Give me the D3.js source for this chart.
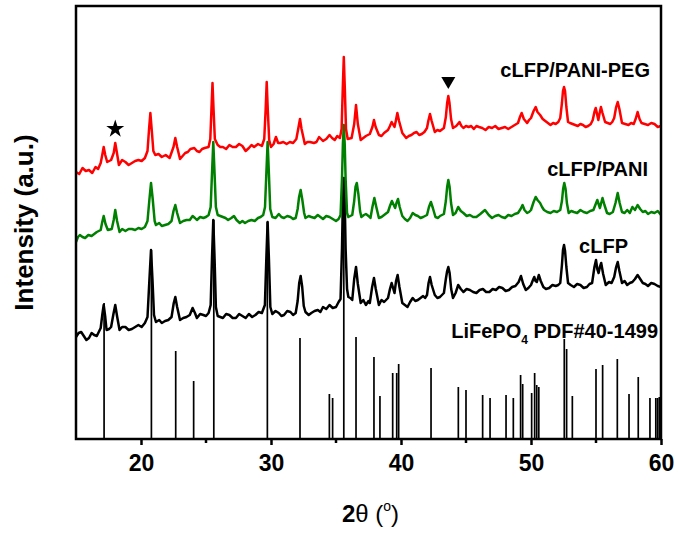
<!DOCTYPE html>
<html>
<head>
<meta charset="utf-8">
<script src="https://cdn.jsdelivr.net/npm/d3@7"></script>
<style>
  body { margin: 0; background: #fff; }
  svg text { font-family: "Liberation Sans", Arial, sans-serif; }
</style>
</head>
<body>
<div id="chart"></div>
<script>
// 2theta ticks
var xTicks = [20, 30, 40, 50, 60];
var xMinor = [25, 35, 45, 55];

// cLFP/PANI-PEG pattern (stacked, a.u.)
var pegData = [
  [15.0,267],[15.25,265],[15.5,271],[15.75,268],[16.0,269],[16.25,266],[16.5,272],[16.7,270],[16.9,276],
  [17.02,284],[17.13,292],[17.25,284],[17.4,277],[17.7,279],[17.9,286],[18.02,296],[18.15,286],[18.3,274],
  [18.55,279],[18.8,277],[19.05,274],[19.3,276],[19.55,278],[19.8,279],[20.05,278],[20.3,281],[20.5,288],
  [20.62,310],[20.72,326],[20.82,310],[20.95,288],[21.1,284],[21.35,285],[21.6,282],[21.9,284],[22.2,281],
  [22.5,292],[22.64,301],[22.78,292],[23.0,280],[23.2,283],[23.4,286],[23.6,287],[23.8,290],[24.1,291],
  [24.3,288],[24.5,287],[24.7,290],[24.9,291],[25.2,292],[25.33,300],[25.42,330],[25.5,356],[25.58,330],
  [25.68,300],[25.9,294],[26.1,292],[26.3,292],[26.55,290],[26.8,294],[27.05,292],[27.3,292],[27.55,295],
  [27.8,293],[28.05,288],[28.3,291],[28.5,294],[28.7,292],[29.0,295],[29.3,293],[29.48,300],[29.59,330],
  [29.67,357],[29.75,330],[29.86,299],[30.0,292],[30.2,295],[30.38,302],[30.55,296],[30.7,296],[30.95,297],
  [31.2,295],[31.45,297],[31.7,296],[31.95,300],[32.12,312],[32.23,320],[32.35,310],[32.6,295],[32.8,297],
  [33.0,297],[33.3,296],[33.5,297],[33.7,302],[34.0,298],[34.25,300],[34.5,304],[34.7,301],[34.9,299],
  [35.1,303],[35.3,301],[35.43,310],[35.52,350],[35.6,382],[35.68,350],[35.77,310],[35.9,300],[36.2,301],
  [36.4,315],[36.54,334],[36.68,315],[36.9,299],[37.1,301],[37.3,303],[37.6,305],[37.8,312],[37.92,319],
  [38.05,312],[38.3,304],[38.5,303],[38.7,306],[39.0,309],[39.15,313],[39.28,317],[39.5,312],[39.6,318],
  [39.72,326],[39.85,318],[40.1,306],[40.4,301],[40.6,303],[40.8,304],[41.0,306],[41.2,307],[41.4,304],
  [41.6,305],[41.8,307],[42.0,311],[42.1,318],[42.23,325],[42.36,318],[42.6,307],[42.8,309],[43.0,308],
  [43.3,311],[43.45,322],[43.55,336],[43.64,343],[43.73,336],[43.85,320],[44.0,311],[44.25,313],[44.5,317],
  [44.65,313],[44.8,311],[45.0,313],[45.2,312],[45.4,313],[45.6,310],[45.8,313],[46.0,312],[46.25,311],
  [46.5,309],[46.75,312],[47.0,311],[47.25,313],[47.5,310],[47.75,311],[48.0,312],[48.25,310],[48.5,312],
  [48.75,314],[49.0,316],[49.15,322],[49.28,326],[49.45,320],[49.7,316],[49.85,319],[50.0,321],[50.2,328],
  [50.36,332],[50.5,327],[50.7,324],[50.9,320],[51.1,318],[51.3,316],[51.5,314],[51.7,316],[51.9,315],
  [52.1,317],[52.25,321],[52.38,336],[52.46,348],[52.54,352],[52.62,348],[52.72,332],[52.85,317],[53.0,316],
  [53.2,315],[53.4,314],[53.6,313],[53.8,315],[54.0,314],[54.2,312],[54.4,313],[54.6,315],[54.75,319],
  [54.88,327],[54.98,331],[55.08,325],[55.18,319],[55.28,326],[55.38,332],[55.5,326],[55.7,317],[55.9,316],
  [56.1,315],[56.25,317],[56.4,321],[56.55,332],[56.67,337],[56.8,330],[57.0,316],[57.25,315],[57.5,314],
  [57.7,316],[57.9,315],[58.05,320],[58.2,327],[58.35,320],[58.5,316],[58.75,315],[59.0,314],[59.25,316],
  [59.5,315],[59.75,312],[60.0,313]
];

// cLFP/PANI pattern
var paniData = [
  [15.0,197],[15.15,202],[15.3,204],[15.5,202],[15.7,201],[15.95,204],[16.2,203],[16.4,205],[16.6,207],
  [16.9,209],[17.02,217],[17.13,223],[17.27,215],[17.45,209],[17.75,210],[17.9,219],[18.02,229],[18.16,218],
  [18.35,207],[18.55,210],[18.8,208],[19.05,210],[19.3,210],[19.55,209],[19.8,211],[20.05,210],[20.3,212],
  [20.5,218],[20.65,240],[20.77,256],[20.9,240],[21.05,218],[21.15,214],[21.4,216],[21.6,213],[21.85,214],
  [22.1,215],[22.35,218],[22.5,228],[22.64,234],[22.78,226],[23.0,216],[23.25,218],[23.5,219],[23.75,219],
  [23.97,223],[24.15,221],[24.3,219],[24.55,222],[24.8,221],[25.0,222],[25.2,224],[25.36,232],[25.46,265],
  [25.56,297],[25.66,265],[25.76,232],[25.9,224],[26.1,223],[26.3,222],[26.5,221],[26.7,219],[26.95,221],
  [27.15,223],[27.35,219],[27.6,216],[27.8,218],[28.0,216],[28.25,218],[28.5,219],[28.75,218],[29.0,221],
  [29.2,222],[29.4,224],[29.54,232],[29.64,265],[29.74,297],[29.84,265],[29.94,230],[30.1,222],[30.35,221],
  [30.6,225],[30.8,222],[31.0,221],[31.25,223],[31.5,222],[31.7,220],[31.9,221],[32.05,230],[32.16,242],
  [32.28,249],[32.4,240],[32.55,226],[32.65,221],[32.9,223],[33.1,222],[33.35,221],[33.6,224],[33.8,222],
  [34.0,220],[34.25,223],[34.5,222],[34.75,220],[35.0,218],[35.2,220],[35.35,224],[35.46,260],[35.53,295],
  [35.6,314],[35.67,295],[35.74,260],[35.85,226],[35.95,222],[36.25,224],[36.4,238],[36.5,252],[36.6,256],
  [36.72,245],[36.85,228],[36.95,222],[37.15,224],[37.3,225],[37.5,223],[37.65,221],[37.8,232],[37.95,241],
  [38.1,232],[38.3,221],[38.5,222],[38.7,224],[39.0,227],[39.15,233],[39.3,238],[39.55,231],[39.65,236],
  [39.77,240],[39.9,232],[40.1,223],[40.3,220],[40.5,218],[40.7,221],[40.9,226],[41.1,224],[41.3,223],
  [41.5,221],[41.7,222],[42.0,224],[42.15,232],[42.3,237],[42.45,231],[42.65,222],[42.85,221],[43.0,223],
  [43.3,225],[43.45,238],[43.55,252],[43.64,259],[43.74,252],[43.85,236],[44.0,224],[44.2,226],[44.4,232],
  [44.6,228],[44.8,226],[45.05,223],[45.3,224],[45.55,222],[45.8,222],[46.1,225],[46.46,229],[46.75,224],
  [47.0,221],[47.25,223],[47.5,224],[47.75,222],[48.0,221],[48.25,224],[48.5,223],[48.75,225],[49.0,226],
  [49.2,230],[49.35,234],[49.5,229],[49.7,226],[49.85,227],[50.0,229],[50.2,237],[50.36,242],[50.5,239],
  [50.7,236],[50.85,232],[51.0,229],[51.25,227],[51.5,226],[51.75,228],[52.0,227],[52.25,229],[52.38,238],
  [52.47,250],[52.56,256],[52.66,250],[52.76,236],[52.9,226],[53.1,228],[53.3,227],[53.55,226],[53.8,229],
  [54.05,227],[54.3,226],[54.55,228],[54.8,229],[54.95,234],[55.1,239],[55.3,231],[55.4,236],[55.5,241],
  [55.65,234],[55.85,226],[56.05,225],[56.3,227],[56.5,236],[56.67,246],[56.82,236],[57.0,227],[57.2,226],
  [57.4,229],[57.6,226],[57.8,232],[58.0,229],[58.2,234],[58.4,230],[58.6,227],[58.8,228],[59.0,225],
  [59.25,227],[59.5,226],[59.75,228],[60.0,224]
];

// cLFP pattern
var clfpData = [
  [15.0,102],[15.2,106],[15.4,107],[15.6,103],[15.8,99],[16.0,101],[16.2,106],[16.4,104],[16.6,103],
  [16.75,107],[16.9,111],[17.03,125],[17.13,134],[17.25,122],[17.35,109],[17.55,110],[17.7,112],[17.88,125],
  [18.02,134],[18.17,122],[18.35,109],[18.55,112],[18.8,112],[19.05,109],[19.3,110],[19.55,112],[19.8,114],
  [20.05,112],[20.3,116],[20.5,122],[20.65,160],[20.77,189],[20.88,160],[21.0,124],[21.15,117],[21.4,119],
  [21.6,116],[21.85,118],[22.1,119],[22.35,122],[22.52,136],[22.64,142],[22.78,132],[23.0,119],[23.25,121],
  [23.5,122],[23.75,124],[23.97,131],[24.15,126],[24.3,121],[24.55,125],[24.8,124],[25.0,123],[25.2,126],
  [25.36,134],[25.46,180],[25.56,219],[25.66,180],[25.76,132],[25.9,123],[26.1,122],[26.3,121],[26.55,125],
  [26.8,124],[27.05,121],[27.3,121],[27.55,125],[27.8,123],[28.05,121],[28.3,125],[28.55,122],[28.8,124],
  [29.05,127],[29.3,126],[29.53,134],[29.64,180],[29.74,217],[29.84,180],[29.95,132],[30.1,125],[30.35,128],
  [30.6,126],[30.8,123],[31.0,124],[31.25,128],[31.5,127],[31.7,124],[31.9,126],[32.05,138],[32.17,156],
  [32.28,163],[32.4,152],[32.52,133],[32.65,127],[32.9,124],[33.1,126],[33.35,128],[33.6,129],[33.8,127],
  [34.0,132],[34.25,130],[34.5,134],[34.75,131],[35.0,132],[35.2,137],[35.35,140],[35.46,190],[35.53,240],
  [35.6,261],[35.67,240],[35.74,190],[35.85,150],[35.95,142],[36.1,141],[36.25,139],[36.4,160],[36.54,172],
  [36.68,155],[36.9,136],[37.1,139],[37.3,134],[37.5,138],[37.6,136],[37.78,152],[37.92,161],[38.06,150],
  [38.3,134],[38.5,139],[38.7,137],[38.85,139],[39.0,141],[39.15,150],[39.28,156],[39.5,146],[39.62,158],
  [39.74,164],[39.88,152],[40.1,136],[40.3,134],[40.5,132],[40.7,137],[40.9,141],[41.1,138],[41.3,139],
  [41.5,141],[41.7,143],[41.85,141],[42.0,144],[42.12,156],[42.23,162],[42.36,154],[42.6,144],[42.8,141],
  [43.0,142],[43.3,146],[43.45,160],[43.55,168],[43.64,172],[43.74,166],[43.86,150],[44.0,141],[44.2,146],
  [44.4,154],[44.6,150],[44.8,147],[45.05,150],[45.3,149],[45.55,147],[45.8,146],[46.05,149],[46.3,150],
  [46.55,147],[46.8,147],[47.05,150],[47.3,149],[47.55,152],[47.8,151],[48.05,148],[48.3,149],[48.55,152],
  [48.8,153],[49.05,157],[49.23,163],[49.4,155],[49.6,149],[49.8,151],[50.0,154],[50.15,159],[50.25,162],
  [50.35,158],[50.45,157],[50.6,164],[50.75,158],[50.95,152],[51.15,150],[51.4,151],[51.65,154],[51.9,153],
  [52.1,154],[52.25,156],[52.38,174],[52.46,189],[52.54,194],[52.62,188],[52.72,172],[52.85,156],[53.05,154],
  [53.3,152],[53.55,155],[53.8,154],[54.05,151],[54.3,152],[54.5,155],[54.7,156],[54.88,172],[55.0,179],
  [55.1,170],[55.2,166],[55.3,172],[55.4,176],[55.55,165],[55.75,154],[56.0,157],[56.2,156],[56.4,162],
  [56.55,172],[56.67,177],[56.8,168],[57.0,156],[57.2,158],[57.4,154],[57.6,156],[57.8,157],[58.0,160],
  [58.2,164],[58.4,160],[58.6,156],[58.8,155],[59.0,153],[59.25,156],[59.5,155],[59.75,153],[60.0,152]
];

// LiFePO4 PDF#40-1499 reference lines: position and height
var refPos = [17.16, 20.8, 22.67, 24.05, 25.6, 29.72, 32.23, 34.49, 34.74, 35.6, 36.54,
  37.92, 38.38, 39.36, 39.67, 39.82, 42.31, 44.41, 45.0, 46.28, 46.85, 48.08, 48.64,
  49.2, 49.36, 50.05, 50.28, 50.44, 50.6, 52.56, 52.74, 53.18, 55.0, 55.51, 56.64,
  57.54, 58.25, 59.15, 59.6, 59.74, 59.87];
var refHeight = [136, 189, 88, 58, 219, 217, 101, 45, 41, 261, 102,
  82, 43, 66, 66, 75, 71, 52, 49, 44, 41, 44, 41,
  64, 55, 46, 66, 54, 52, 100, 90, 43, 70, 74, 80,
  45, 62, 41, 41, 41, 42];

var seriesNames = ["cLFP/PANI-PEG", "cLFP/PANI", "cLFP"];
var seriesColors = ["#ff0000", "#008000", "#000000"];

var width = 679, height = 536;
var margin = {top: 6, right: 18, bottom: 97, left: 76};

var svg = d3.select("#chart").append("svg")
    .attr("width", width)
    .attr("height", height);

var x = d3.scaleLinear()
    .domain([15, 60])
    .range([margin.left, width - margin.right]);

var y = d3.scaleLinear()
    .domain([0, 433])
    .range([height - margin.bottom, margin.top]);

svg.append("clipPath")
    .attr("id", "plotClip")
    .append("rect")
    .attr("x", margin.left)
    .attr("y", margin.top)
    .attr("width", x(60) - x(15))
    .attr("height", y(0) - y(433));

var plot = svg.append("g").attr("clip-path", "url(#plotClip)");

// reference sticks
plot.selectAll("line.ref")
    .data(refPos)
    .enter()
    .append("line")
    .attr("class", "ref")
    .attr("x1", function(d) { return x(d); })
    .attr("x2", function(d) { return x(d); })
    .attr("y1", y(0))
    .attr("y2", function(d, i) { return y(refHeight[i]); })
    .attr("stroke", "#000")
    .attr("stroke-width", 1.7);

var line = d3.line()
    .x(function(d) { return x(d[0]); })
    .y(function(d) { return y(d[1]); });

// black first, then green, red on top
var patterns = [clfpData, paniData, pegData];
var patColors = [seriesColors[2], seriesColors[1], seriesColors[0]];
plot.selectAll("path.pattern")
    .data(patterns)
    .enter()
    .append("path")
    .attr("class", "pattern")
    .attr("d", line)
    .attr("fill", "none")
    .attr("stroke", function(d, i) { return patColors[i]; })
    .attr("stroke-width", 2.5)
    .attr("stroke-linejoin", "round");

// frame
svg.append("rect")
    .attr("x", x(15))
    .attr("y", y(433))
    .attr("width", x(60) - x(15))
    .attr("height", y(0) - y(433))
    .attr("fill", "none")
    .attr("stroke", "#000")
    .attr("stroke-width", 2.5);

// x axis
var xAxis = d3.axisBottom(x)
    .tickValues(xTicks)
    .tickSize(6)
    .tickPadding(10)
    .tickFormat(d3.format("d"));

var gx = svg.append("g")
    .attr("transform", "translate(0," + y(0) + ")")
    .call(xAxis);
gx.select(".domain").remove();
gx.selectAll("line").attr("stroke-width", 2.5);
gx.selectAll("text")
    .attr("font-size", "23px")
    .attr("font-weight", "bold")
    .attr("fill", "#000");

svg.append("g").selectAll("line")
    .data(xMinor)
    .enter()
    .append("line")
    .attr("x1", function(d) { return x(d); })
    .attr("x2", function(d) { return x(d); })
    .attr("y1", y(0))
    .attr("y2", y(0) + 4)
    .attr("stroke", "#000")
    .attr("stroke-width", 2.5);

// axis titles
var xt = svg.append("text")
    .attr("x", (x(15) + x(60)) / 2 + 2)
    .attr("y", 522)
    .attr("text-anchor", "middle")
    .attr("font-size", "24px");
xt.append("tspan").attr("font-weight", "bold").text("2");
xt.append("tspan").text("θ (");
xt.append("tspan").attr("font-size", "14px").attr("dy", "-11").text("o");
xt.append("tspan").attr("dy", "11").text(")");

svg.append("text")
    .attr("transform", "translate(33," + ((y(0) + y(433)) / 2) + ") rotate(-90)")
    .attr("text-anchor", "middle")
    .attr("font-size", "26px")
    .attr("font-weight", "bold")
    .text("Intensity (a.u.)");

// series labels
var labelPos = [[650, 77], [648, 176], [628, 253]];
svg.selectAll("text.series")
    .data(seriesNames)
    .enter()
    .append("text")
    .attr("class", "series")
    .attr("x", function(d, i) { return labelPos[i][0]; })
    .attr("y", function(d, i) { return labelPos[i][1]; })
    .attr("text-anchor", "end")
    .attr("font-size", "20px")
    .attr("font-weight", "bold")
    .text(function(d) { return d; });

var refLabel = svg.append("text")
    .attr("x", 658)
    .attr("y", 338)
    .attr("text-anchor", "end")
    .attr("font-size", "20px")
    .attr("font-weight", "bold");
refLabel.append("tspan").text("LiFePO");
refLabel.append("tspan").attr("font-size", "12px").attr("dy", "6").text("4");
refLabel.append("tspan").attr("dy", "-6").text(" PDF#40-1499");

// markers: star (impurity) and triangle
svg.append("path")
    .attr("d", d3.symbol().type(d3.symbolStar).size(100)())
    .attr("transform", "translate(" + x(18.02) + ",129)")
    .attr("fill", "#000");

svg.append("path")
    .attr("d", d3.symbol().type(d3.symbolTriangle).size(85)())
    .attr("transform", "translate(" + x(43.64) + ",81) rotate(180)")
    .attr("fill", "#000");
</script>
</body>
</html>
